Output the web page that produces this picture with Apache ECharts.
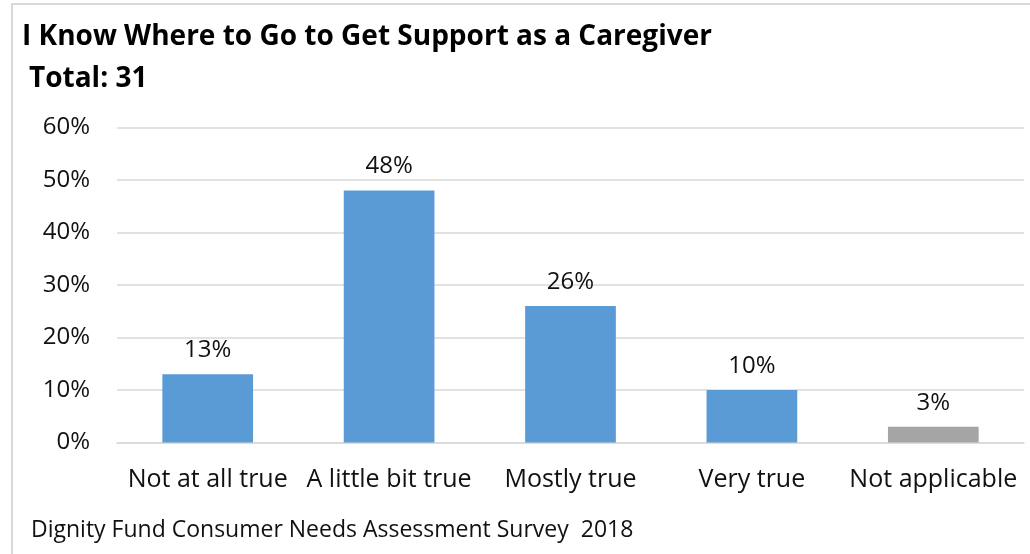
<!DOCTYPE html>
<html>
<head>
<meta charset="utf-8">
<script src="https://cdn.jsdelivr.net/npm/echarts@6/dist/echarts.min.js"></script>
<style>
  html, body { margin: 0; padding: 0; background: #fff; }
  #chart { width: 1030px; height: 554px; }
</style>
</head>
<body>
<div id="chart"></div>
<script>
// data
var categories = ['Not at all true', 'A little bit true', 'Mostly true', 'Very true', 'Not applicable'];
var values = [13, 48, 26, 10, 3];
var barColors = ['#5B9BD5', '#5B9BD5', '#5B9BD5', '#5B9BD5', '#A5A5A5'];
var yTicks = [0, 10, 20, 30, 40, 50, 60];

var FONT = '"Open Sans", Lato, sans-serif';

var myChart = echarts.init(document.getElementById('chart'));

var option = {
  backgroundColor: '#fff',
  animation: false,
  title: [{
    text: 'I Know Where to Go to Get Support as a Caregiver',
    left: 17,
    top: 18,
    textStyle: { fontFamily: FONT, fontSize: 28, fontWeight: 'bold', color: '#000' }
  }, {
    text: 'Total: 31',
    left: 24,
    top: 60,
    textStyle: { fontFamily: FONT, fontSize: 28, fontWeight: 'bold', color: '#000' }
  }, {
    text: 'Dignity Fund Consumer Needs Assessment Survey  2018',
    left: 26,
    top: 514,
    textStyle: { fontFamily: FONT, fontSize: 23, fontWeight: 'normal', color: '#111' }
  }],
  graphic: [{
    // thin frame along top and left edge
    type: 'polyline',
    shape: { points: [[12, 560], [12, 4], [1040, 4]] },
    style: { stroke: '#D9D9D9', lineWidth: 2, fill: null }
  }],
  grid: { left: 117, right: 6, top: 127.5, bottom: 111.5 },
  xAxis: {
    type: 'category',
    data: categories,
    axisLine: { show: true, lineStyle: { color: '#D9D9D9', width: 1.5 } },
    axisTick: { show: false },
    axisLabel: { fontFamily: FONT, fontSize: 25, color: '#111', margin: 25, interval: 0 }
  },
  yAxis: {
    type: 'value',
    min: yTicks[0],
    max: yTicks[yTicks.length - 1],
    interval: 10,
    axisLine: { show: false },
    axisTick: { show: false },
    splitLine: { lineStyle: { color: '#D9D9D9', width: 1.5 } },
    axisLabel: {
      fontFamily: FONT, fontSize: 24, color: '#111', margin: 27,
      formatter: function (v) { return v + '%'; }
    }
  },
  series: [{
    type: 'bar',
    barWidth: '50%',
    data: values.map(function (v, i) {
      return { value: v, itemStyle: { color: barColors[i] } };
    }),
    label: {
      show: true,
      position: 'top',
      distance: 12,
      fontFamily: FONT, fontSize: 24, color: '#111',
      formatter: '{c}%'
    }
  }]
};

myChart.setOption(option);
</script>
</body>
</html>
